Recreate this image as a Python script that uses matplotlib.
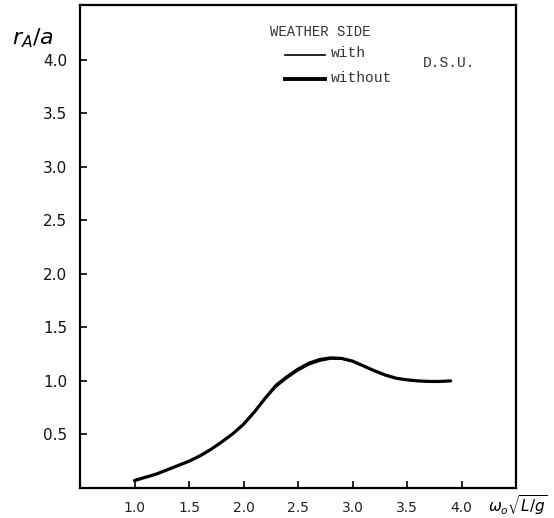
import matplotlib.pyplot as plt

# values
omega = [1.0, 1.1, 1.2, 1.3, 1.4, 1.5, 1.6, 1.7, 1.8, 1.9, 2.0, 2.1, 2.2, 2.3, 2.4,
         2.5, 2.6, 2.7, 2.8, 2.9, 3.0, 3.1, 3.2, 3.3, 3.4, 3.5, 3.6, 3.7, 3.8, 3.9]
r_with = [0.07, 0.10, 0.13, 0.17, 0.21, 0.25, 0.30, 0.36, 0.43, 0.505, 0.595, 0.71, 0.835, 0.945, 1.025,
          1.095, 1.15, 1.185, 1.205, 1.205, 1.18, 1.14, 1.095, 1.055, 1.025, 1.01, 1.0, 0.995, 0.995, 1.0]
r_without = [0.07, 0.10, 0.13, 0.17, 0.21, 0.25, 0.30, 0.36, 0.43, 0.505, 0.595, 0.71, 0.84, 0.96, 1.04,
             1.11, 1.165, 1.20, 1.215, 1.21, 1.185, 1.14, 1.095, 1.055, 1.025, 1.01, 1.0, 0.995, 0.995, 1.0]

xticks = [1.0, 1.5, 2.0, 2.5, 3.0, 3.5, 4.0]
yticks = [0.5, 1.0, 1.5, 2.0, 2.5, 3.0, 3.5, 4.0]

mono = "Liberation Mono"


def fx(px):
    return px / 554


def fy(py):
    return 1 - py / 518


fig = plt.figure(figsize=(5.54, 5.18), dpi=100)
ax = fig.add_axes([fx(80), fy(488), 436 / 554, 483 / 518])

ax.plot(omega, r_without, color="black", lw=2.3, solid_capstyle="round")
ax.plot(omega, r_with, color="black", lw=1.2)

ax.set_xlim(0.5, 4.5)
ax.set_ylim(0, 4.51)
ax.set_xticks(xticks)
ax.set_yticks(yticks)
ax.set_xticklabels([f"{v:.1f}" for v in xticks], fontsize=10, color="#222")
ax.set_yticklabels([f"{v:.1f}" for v in yticks], fontsize=11, color="#111")
ax.tick_params(direction="in", length=5, width=1.2, pad=9)
for s in ax.spines.values():
    s.set_linewidth(1.6)

# axis labels, drawn by hand in the original
fig.text(fx(12), fy(38), r"$r_A/a$", fontsize=16, ha="left", va="center")
fig.text(fx(488), fy(505), r"$\omega_o\sqrt{L/g}$", fontsize=11, ha="left", va="center")

# legend block in typewriter text
fig.text(fx(270), fy(32), "WEATHER SIDE", fontsize=10, family=mono, color="#333", va="center")
fig.lines.append(plt.Line2D([fx(285), fx(325)], [fy(55)] * 2, color="black", lw=1.2,
                            transform=fig.transFigure))
fig.lines.append(plt.Line2D([fx(285), fx(325)], [fy(79)] * 2, color="black", lw=2.8,
                            transform=fig.transFigure))
fig.text(fx(331), fy(53), "with", fontsize=10.5, family=mono, color="#333", va="center")
fig.text(fx(331), fy(78), "without", fontsize=10.5, family=mono, color="#333", va="center")
fig.text(fx(423), fy(63), "D.S.U.", fontsize=10.5, family=mono, color="#333", va="center")

fig.savefig("out.png", dpi=100)
